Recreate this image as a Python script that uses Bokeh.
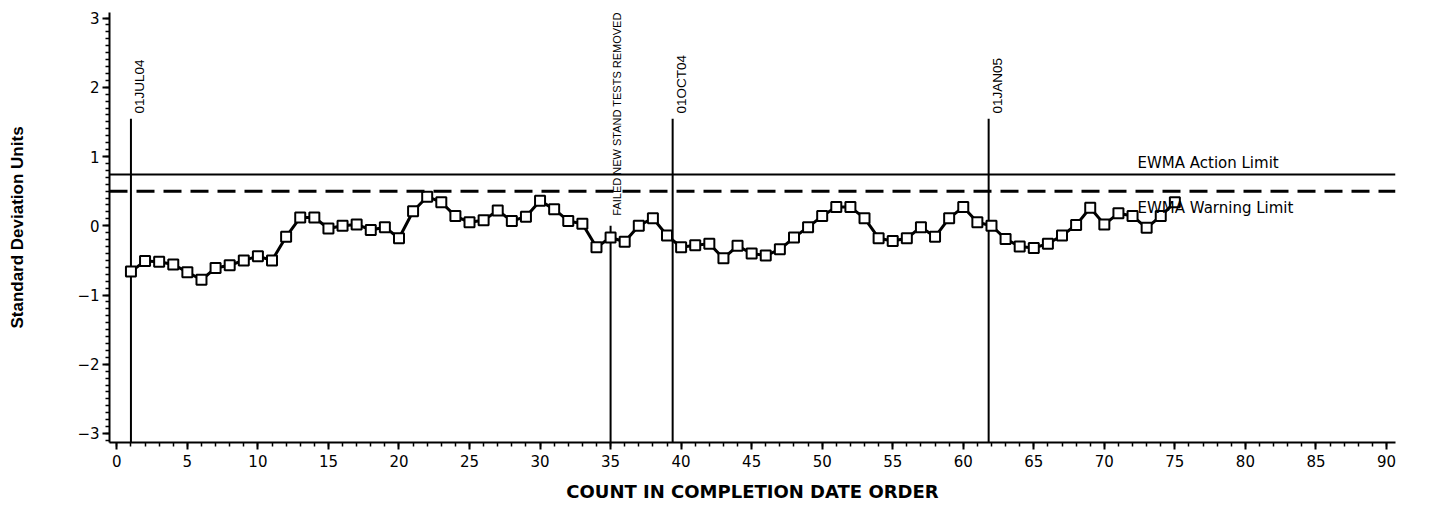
import math
from bokeh.plotting import figure
from bokeh.models import Span, SingleIntervalTicker, Range1d
from bokeh.core.properties import value
from bokeh.embed import file_html
from bokeh.resources import INLINE

# ---- data ----
count = list(range(1, 76))
ewma = [-0.66, -0.51, -0.52, -0.56, -0.67, -0.78, -0.61, -0.57, -0.50, -0.44,
        -0.50, -0.16, 0.12, 0.12, -0.04, 0.00, 0.02, -0.06, -0.02, -0.18,
        0.21, 0.42, 0.34, 0.14, 0.05, 0.08, 0.22, 0.07, 0.13, 0.36,
        0.24, 0.07, 0.03, -0.31, -0.17, -0.23, 0.00, 0.11, -0.14, -0.31,
        -0.28, -0.26, -0.47, -0.29, -0.40, -0.43, -0.34, -0.17, -0.02, 0.14,
        0.27, 0.27, 0.11, -0.18, -0.22, -0.18, -0.02, -0.16, 0.11, 0.27,
        0.05, 0.00, -0.19, -0.30, -0.32, -0.26, -0.14, 0.01, 0.26, 0.02,
        0.18, 0.14, -0.03, 0.14, 0.34]
action_limit = 0.74
warning_limit = 0.50
limit_labels = ["EWMA Action Limit", "EWMA Warning Limit"]
date_x = [1, 39.4, 61.8]
date_labels = ["01JUL04", "01OCT04", "01JAN05"]
removed_x = [35]
removed_labels = ["FAILED NEW STAND TESTS REMOVED"]
y_tick_values = [-3, -2, -1, 0, 1, 2, 3]
y_tick_labels = ["\u22123", "\u22122", "\u22121", "0", "1", "2", "3"]

NARROW = "Liberation Sans"
WIDE = "DejaVu Sans"

y0, y1 = -3.13, 3.08
p = figure(width=1429, height=508,
           x_range=Range1d(-0.52, 90.64), y_range=Range1d(y0, y1),
           output_backend="svg", toolbar_location=None,
           min_border_left=109, min_border_right=34,
           min_border_top=12, min_border_bottom=66)
p.outline_line_color = None
p.xgrid.grid_line_color = None
p.ygrid.grid_line_color = None
p.background_fill_color = "white"

# axes
p.xaxis.ticker = SingleIntervalTicker(interval=5, num_minor_ticks=5)
p.yaxis.ticker = SingleIntervalTicker(interval=1, num_minor_ticks=10)
p.yaxis.major_label_overrides = {v: s for v, s in zip(y_tick_values, y_tick_labels)}
for ax in (p.xaxis[0], p.yaxis[0]):
    ax.axis_line_width = 2
    ax.axis_line_color = "black"
    ax.major_tick_line_width = 2
    ax.minor_tick_line_width = 1.5
    ax.major_tick_line_color = "black"
    ax.minor_tick_line_color = "black"
    ax.major_tick_in = 0
    ax.minor_tick_in = 0
    ax.major_tick_out = 7
    ax.minor_tick_out = 4
    ax.major_label_text_font = WIDE
    ax.major_label_text_font_size = "15px"
    ax.major_label_text_color = "black"

p.xaxis.major_label_standoff = 5
p.xaxis.axis_label = "COUNT IN COMPLETION DATE ORDER"
p.xaxis.axis_label_text_font = WIDE
p.xaxis.axis_label_text_font_style = "bold"
p.xaxis.axis_label_text_font_size = "18px"
p.xaxis.axis_label_standoff = 11
p.xaxis.axis_label_text_color = "black"

p.yaxis.major_label_standoff = 3
p.yaxis.axis_label = "Standard Deviation Units"
p.yaxis.axis_label_text_font = NARROW
p.yaxis.axis_label_text_font_style = "bold"
p.yaxis.axis_label_text_font_size = "17px"
p.yaxis.axis_label_standoff = 47
p.yaxis.axis_label_text_color = "black"

# limits
p.add_layout(Span(location=action_limit, dimension="width",
                  line_color="black", line_width=2))
p.add_layout(Span(location=warning_limit, dimension="width",
                  line_color="black", line_width=3, line_dash="18 9"))

# event lines
p.segment(x0=date_x, y0=[y0] * len(date_x), x1=date_x, y1=[1.545] * len(date_x),
          line_color="black", line_width=2)
p.segment(x0=removed_x, y0=[y0], x1=removed_x, y1=[0.0],
          line_color="black", line_width=2)

# series
p.line(count, ewma, line_color="black", line_width=3)
p.scatter(count, ewma, marker="square", size=10, fill_color="white",
          line_color="black", line_width=2)

# labels
p.text(x=date_x, y=[1.62] * len(date_x), text=date_labels, angle=math.pi / 2,
       text_align="left", text_baseline="middle", x_offset=9,
       text_font=value(NARROW), text_font_size="13.5px", text_color="black")
p.text(x=removed_x, y=[0.145], text=removed_labels, angle=math.pi / 2,
       text_align="left", text_baseline="middle", x_offset=6,
       text_font=value(NARROW), text_font_size="11px", text_color="black")
p.text(x=[72.35, 72.35], y=[0.90, 0.25], text=limit_labels,
       text_align="left", text_baseline="alphabetic",
       text_font=value(WIDE), text_font_size="15px", text_color="black")

open("out.html", "w").write(file_html(p, INLINE))
